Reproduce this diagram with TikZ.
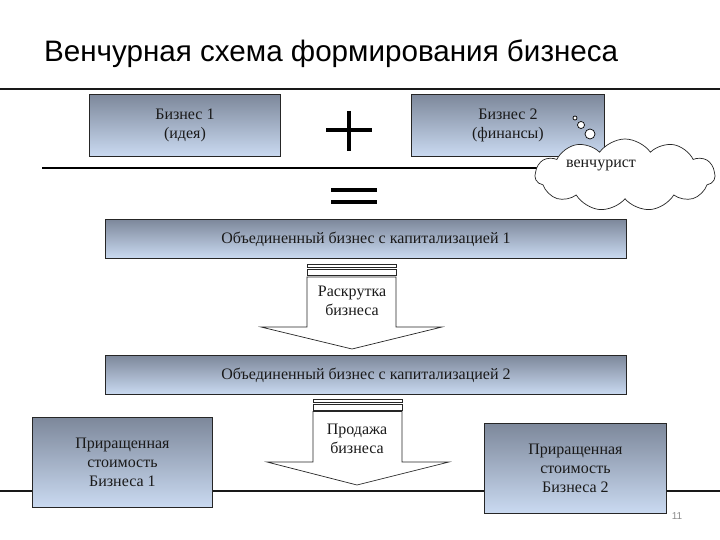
\documentclass[tikz,border=0pt]{standalone}
\usepackage{fontspec}
\setmainfont{Liberation Serif}
\newfontfamily\titlefont{Liberation Sans}
\usetikzlibrary{shapes.symbols}
\definecolor{boxtop}{HTML}{7D889B}
\definecolor{boxmid}{HTML}{A6B5CC}
\definecolor{boxbot}{HTML}{CADAF1}
\definecolor{txt}{HTML}{1A1A1A}
\tikzset{
  bbox/.style={draw=black!85, line width=0.9pt, top color=boxtop, middle color=boxmid, bottom color=boxbot,
    align=center, font=\fontsize{16}{19}\selectfont, text=txt, inner sep=0pt, anchor=north west},
  arrowshape/.style={draw=black!85, line width=0.7pt, fill=white},
  arrowtext/.style={align=center, font=\fontsize{16}{19}\selectfont, text=txt},
  rule/.style={line width=1.6pt, black!90},
  sign/.style={line width=3.2pt, black}
}
\begin{document}
\begin{tikzpicture}[x=1pt,y=-1pt]
\useasboundingbox[fill=white] (0,0) rectangle (720,540);
% title
\node[anchor=base west, font=\titlefont\fontsize{29.6}{34}\selectfont, inner sep=0pt] (title) at (44,62) {Венчурная схема формирования бизнеса};
% rules
\draw[rule] (0,89) -- (720,89);
\draw[rule] (0,491) -- (720,491);
% top boxes
\node[bbox, minimum width=191pt, minimum height=62pt] (b1) at (89,94) {Бизнес 1\\(идея)};
\node[bbox, minimum width=193pt, minimum height=62pt] (b2) at (411,94) {Бизнес 2\\(финансы)};
% plus
\draw[sign] (326,130) -- (372,130);
\draw[sign] (349,111) -- (349,151);
% fraction bar
\draw[line width=2.8pt] (42,168) -- (560,168);
% equals
\draw[sign] (331,190) -- (377,190);
\draw[sign] (331,202) -- (377,202);
% cloud
\node[cloud, cloud puffs=11, cloud puff arc=110, aspect=2.5, draw=black!85, fill=white, line width=0.7pt,
  minimum width=180pt, minimum height=72pt, inner sep=0pt] (cl) at (625,175) {};
\node[font=\fontsize{16}{19}\selectfont, text=txt] (clt) at (601,165) {венчурист};
\draw[line width=0.7pt, fill=white] (575,118) circle (2);
\draw[line width=0.7pt, fill=white] (581,125) circle (3.5);
\draw[line width=0.7pt, fill=white] (590,134) circle (5);
% merged boxes
\node[bbox, minimum width=521pt, minimum height=39pt] (m1) at (105,219) {Объединенный бизнес с капитализацией 1};
\node[bbox, minimum width=521pt, minimum height=39pt] (m2) at (105,355) {Объединенный бизнес с капитализацией 2};
% arrow 1
\draw[arrowshape] (307,264) rectangle (396,267.5);
\draw[arrowshape] (307,269.5) rectangle (396,275.5);
\draw[arrowshape] (307,277) -- (396,277) -- (396,327) -- (442,327) -- (352,349) -- (261,327) -- (307,327) -- cycle;
\node[arrowtext] (a1) at (352,301) {Раскрутка\\бизнеса};
% arrow 2
\draw[arrowshape] (313,399) rectangle (402,402.5);
\draw[arrowshape] (313,404.5) rectangle (402,410);
\draw[arrowshape] (313,411.5) -- (402,411.5) -- (402,462) -- (449,462) -- (357,485) -- (267,462) -- (313,462) -- cycle;
\node[arrowtext] (a2) at (357,439) {Продажа\\бизнеса};
% bottom boxes
\node[bbox, minimum width=180pt, minimum height=90pt] (p1) at (32,417) {Приращенная\\стоимость\\Бизнеса 1};
\node[bbox, minimum width=182pt, minimum height=90pt] (p2) at (484,423) {Приращенная\\стоимость\\Бизнеса 2};
% page number
\node[font=\titlefont\fontsize{10}{12}\selectfont, text=black!45, inner sep=0pt] (pg) at (677,516) {11};
\end{tikzpicture}
\end{document}
